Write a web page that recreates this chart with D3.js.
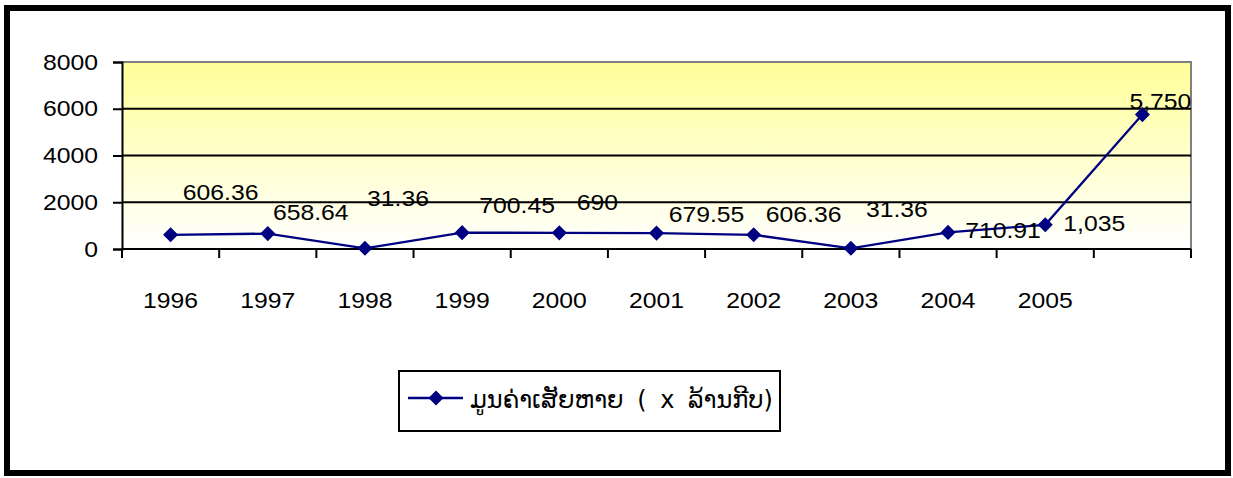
<!DOCTYPE html>
<html>
<head>
<meta charset="utf-8">
<script src="https://cdn.jsdelivr.net/npm/d3@7"></script>
<style>
  body { margin: 0; background: #fff; }
  svg text { font-family: "Liberation Sans", Arial, sans-serif; fill: #000; }
</style>
</head>
<body>
<svg width="1233" height="478"></svg>
<script>
// data
var years = ["1996", "1997", "1998", "1999", "2000", "2001", "2002", "2003", "2004", "2005", ""];
var damage = [606.36, 658.64, 31.36, 700.45, 690, 679.55, 606.36, 31.36, 710.91, 1035, 5750];
var valueLabels = ["606.36", "658.64", "31.36", "700.45", "690", "679.55", "606.36", "31.36", "710.91", "1,035", "5,750"];
var yTicks = [0, 2000, 4000, 6000, 8000];
var seriesName = "ມູນຄ່າເສັຍຫາຍ ( x ລ້ານກີບ)";

// hand-placed label nudges (dx, dy) relative to the point, like in the original sheet
var labelNudge = [[50, -35], [43, -14], [33, -42], [55, -20], [38, -23], [50, -11],
                  [50, -13], [46, -31], [55, 6], [49, 6], [18, -6]];

var stretch = 1.1; // the original text is a bit wider than Liberation Sans

var svg = d3.select("svg"),
    margin = {top: 62, right: 42, bottom: 229, left: 122},
    width = 1191 - margin.left,
    height = 249 - margin.top,
    g = svg.append("g").attr("transform", "translate(" + margin.left + "," + margin.top + ")");

// put a text at (tx,ty) stretched horizontally
function place(sel, tx, ty) {
    sel.attr("x", 0).attr("y", 0)
       .attr("transform", function(d, i) {
           return "translate(" + tx(d, i) + "," + ty(d, i) + ") scale(" + stretch + ",1)";
       });
}

// outer frame
svg.append("rect")
    .attr("x", 7).attr("y", 8)
    .attr("width", 1221).attr("height", 465)
    .attr("fill", "none").attr("stroke", "#000").attr("stroke-width", 6);

var defs = svg.append("defs");
var grad = defs.append("linearGradient").attr("id", "bg")
    .attr("x1", 0).attr("y1", 0).attr("x2", 0).attr("y2", 1);
grad.append("stop").attr("offset", "0%").attr("stop-color", "#ffff99");
grad.append("stop").attr("offset", "100%").attr("stop-color", "#ffffff");

var x = d3.scaleBand().domain(d3.range(years.length)).range([0, width]),
    y = d3.scaleLinear().domain([0, 8000]).range([height, 0]);

// plot area
g.append("rect")
    .attr("width", width).attr("height", height)
    .attr("fill", "url(#bg)");
g.append("path")
    .attr("d", "M0,0H" + width + "V" + height)
    .attr("fill", "none").attr("stroke", "#808080").attr("stroke-width", 2);

// gridlines
g.selectAll(".grid")
    .data(yTicks.filter(function(d) { return d > 0 && d < 8000; }))
    .enter().append("line")
    .attr("x1", 0).attr("x2", width)
    .attr("y1", function(d) { return y(d); })
    .attr("y2", function(d) { return y(d); })
    .attr("stroke", "#000").attr("stroke-width", 2);

// Y axis
var yAxis = g.append("g")
    .call(d3.axisLeft(y).tickValues(yTicks).tickSize(9).tickFormat(d3.format("d")));
yAxis.select(".domain").attr("stroke-width", 2);
yAxis.selectAll(".tick line").attr("stroke-width", 2);
yAxis.selectAll(".tick text")
    .attr("font-size", 22.5).attr("font-family", "Liberation Sans, Arial, sans-serif")
    .attr("dy", "0.32em")
    .call(place, function() { return -24; }, function() { return 0; });

// X axis: ticks on category boundaries
var edges = d3.range(years.length + 1).map(function(i) { return i * x.step(); });
var xAxis = g.append("g").attr("transform", "translate(0," + height + ")");
xAxis.append("line").attr("x1", 0).attr("x2", width)
    .attr("stroke", "#000").attr("stroke-width", 2);
xAxis.selectAll(".xt").data(edges).enter().append("line")
    .attr("x1", function(d) { return d; }).attr("x2", function(d) { return d; })
    .attr("y1", 0).attr("y2", 9)
    .attr("stroke", "#000").attr("stroke-width", 2);
xAxis.selectAll(".xl").data(years).enter().append("text")
    .attr("text-anchor", "middle")
    .attr("font-size", 22.5)
    .text(function(d) { return d; })
    .call(place, function(d, i) { return x(i) + x.bandwidth() / 2; }, function() { return 59; });

// line
var line = d3.line()
    .x(function(d, i) { return x(i) + x.bandwidth() / 2; })
    .y(function(d) { return y(d); });

g.append("path")
    .datum(damage)
    .attr("d", line)
    .attr("fill", "none").attr("stroke", "#000080").attr("stroke-width", 2.3);

var diamond = d3.symbol().type(d3.symbolDiamond2).size(145);

g.selectAll(".pt").data(damage).enter().append("path")
    .attr("d", diamond)
    .attr("transform", function(d, i) {
        return "translate(" + (x(i) + x.bandwidth() / 2) + "," + y(d) + ")";
    })
    .attr("fill", "#000080");

g.selectAll(".lbl").data(damage).enter().append("text")
    .attr("text-anchor", "middle")
    .attr("font-size", 22.5)
    .text(function(d, i) { return valueLabels[i]; })
    .call(place,
          function(d, i) { return x(i) + x.bandwidth() / 2 + labelNudge[i][0]; },
          function(d, i) { return y(d) + labelNudge[i][1]; });

// legend
var legend = svg.append("g").attr("transform", "translate(399,371)");
legend.append("rect")
    .attr("width", 381).attr("height", 60)
    .attr("fill", "#fff").attr("stroke", "#000").attr("stroke-width", 2);
legend.append("line")
    .attr("x1", 9).attr("x2", 64).attr("y1", 27).attr("y2", 27)
    .attr("stroke", "#000080").attr("stroke-width", 2.3);
legend.append("path")
    .attr("d", diamond)
    .attr("transform", "translate(37,27)")
    .attr("fill", "#000080");
legend.append("text")
    .attr("x", 71).attr("y", 37)
    .attr("font-size", 24)
    .attr("word-spacing", 6)
    .style("font-family", "'DejaVu Sans', sans-serif")
    .text(seriesName);
</script>
</body>
</html>
